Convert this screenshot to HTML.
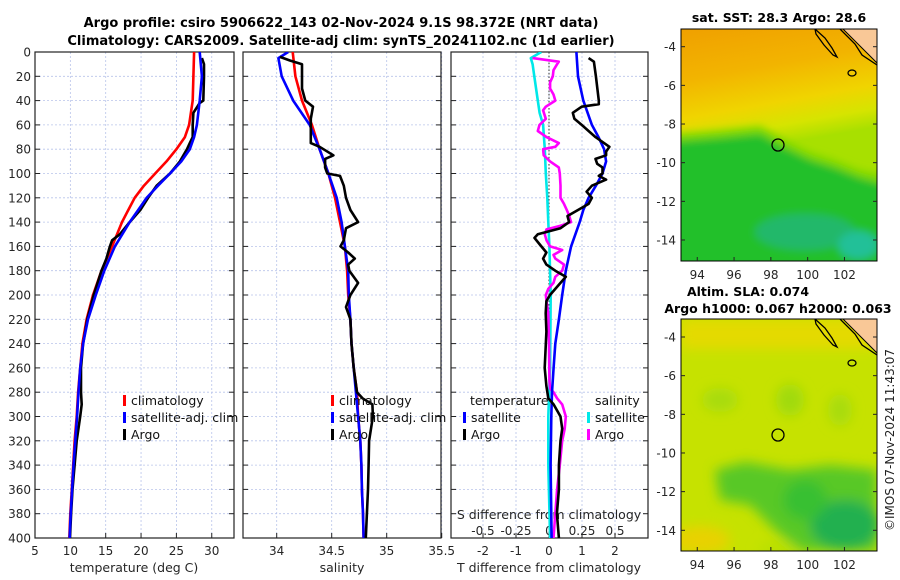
<!DOCTYPE html>
<html><head><meta charset="utf-8">
<style>
html,body{margin:0;padding:0;background:#fff;}
svg{display:block;font-family:"DejaVu Sans","Liberation Sans",sans-serif;}
</style></head>
<body>
<svg id="fig" width="900" height="580" viewBox="0 0 900 580" xmlns="http://www.w3.org/2000/svg">
<defs>
  <clipPath id="c1"><rect x="35" y="52" width="199" height="486"/></clipPath>
  <clipPath id="c2"><rect x="243" y="52" width="198" height="486"/></clipPath>
  <clipPath id="c3"><rect x="451" y="52" width="197" height="486"/></clipPath>
  <clipPath id="cm1"><rect x="681" y="29" width="196" height="232"/></clipPath>
  <clipPath id="cm2"><rect x="681" y="319" width="196" height="232"/></clipPath>
  <filter id="bl" x="-20%" y="-20%" width="140%" height="140%"><feGaussianBlur stdDeviation="6"/></filter>
  <filter id="bl2" x="-20%" y="-20%" width="140%" height="140%"><feGaussianBlur stdDeviation="4"/></filter>
  <linearGradient id="sstg" x1="0" y1="0" x2="0.15" y2="1">
    <stop offset="0" stop-color="#f0a000"/>
    <stop offset="0.22" stop-color="#f2b400"/>
    <stop offset="0.38" stop-color="#f0d400"/>
    <stop offset="0.48" stop-color="#d6e400"/>
    <stop offset="0.56" stop-color="#a8e000"/>
    <stop offset="1" stop-color="#a8e000"/>
  </linearGradient>
</defs>

<g font-weight="bold" font-size="13" fill="#000" text-anchor="middle">
  <text x="341" y="27">Argo profile: csiro 5906622_143 02-Nov-2024 9.1S 98.372E (NRT data)</text>
  <text x="341" y="45">Climatology: CARS2009. Satellite-adj clim: synTS_20241102.nc (1d earlier)</text>
</g>

<g id="axes"></g>
<g id="series"></g>
<g id="legends"></g>

<g>
  <text x="779" y="22" text-anchor="middle" font-weight="bold" font-size="12.5">sat. SST: 28.3 Argo: 28.6</text>
  <g clip-path="url(#cm1)">
    <rect x="681" y="29" width="196" height="232" fill="url(#sstg)"/>
    <g filter="url(#bl2)">
      <polygon points="670,134 720,130 760,126 785,140 810,152 835,160 860,170 890,176 890,280 670,280" fill="#7ed800"/>
      <polygon points="670,142 720,138 760,134 785,148 810,160 835,168 860,178 890,186 890,280 670,280" fill="#22c02c"/>
      <ellipse cx="805" cy="232" rx="50" ry="18" fill="#22b86a"/>
      <ellipse cx="858" cy="245" rx="20" ry="14" fill="#20c098"/>
    </g>
    <polygon points="843,29 877,29 877,63" fill="#f9c897"/>
    <polyline points="840,29 855,44 862,55 877,65" fill="none" stroke="#000" stroke-width="1.3"/>
    <polyline points="843,29 877,63" fill="none" stroke="#000" stroke-width="1"/>
    <path d="M815,29 L825,38 L832,48 L837,57 L833,55 L824,45 L816,34 Z" fill="none" stroke="#000" stroke-width="1.3"/>
    <ellipse cx="852" cy="73" rx="4" ry="3" fill="none" stroke="#000" stroke-width="1.3"/>
    <circle cx="778" cy="145" r="6" fill="none" stroke="#000" stroke-width="1.3"/>
  </g>
  <rect x="681" y="29" width="196" height="232" fill="none" stroke="#000" stroke-width="1"/>
</g>

<g>
  <text x="748" y="296" text-anchor="middle" font-weight="bold" font-size="12.5">Altim. SLA: 0.074</text>
  <text x="778" y="313" text-anchor="middle" font-weight="bold" font-size="12.5">Argo h1000: 0.067 h2000: 0.063</text>
  <g clip-path="url(#cm2)">
    <rect x="681" y="319" width="196" height="232" fill="#c6e200"/>
    <g filter="url(#bl)">
      <rect x="681" y="319" width="196" height="30" fill="#e4da00"/>
      <ellipse cx="720" cy="400" rx="18" ry="12" fill="#a8dc10"/>
      <ellipse cx="790" cy="400" rx="14" ry="16" fill="#a0da10"/>
      <ellipse cx="840" cy="410" rx="12" ry="16" fill="#a8dc10"/>
      <polygon points="715,470 745,462 790,470 830,465 877,470 877,551 800,551 775,530 750,505 720,500" fill="#58c828"/>
      <ellipse cx="845" cy="525" rx="35" ry="25" fill="#20b050"/>
      <ellipse cx="805" cy="500" rx="22" ry="20" fill="#38c030"/>
      <ellipse cx="700" cy="540" rx="30" ry="14" fill="#e8d200"/>
      <ellipse cx="778" cy="550" rx="20" ry="8" fill="#b8e000"/>
    </g>
    <polygon points="843,319 877,319 877,353" fill="#f9c897"/>
    <polyline points="840,319 855,334 862,345 877,355" fill="none" stroke="#000" stroke-width="1.3"/>
    <polyline points="843,319 877,353" fill="none" stroke="#000" stroke-width="1"/>
    <path d="M815,319 L825,328 L832,338 L837,347 L833,345 L824,335 L816,324 Z" fill="none" stroke="#000" stroke-width="1.3"/>
    <ellipse cx="852" cy="363" rx="4" ry="3" fill="none" stroke="#000" stroke-width="1.3"/>
    <circle cx="778" cy="435" r="6" fill="none" stroke="#000" stroke-width="1.3"/>
  </g>
  <rect x="681" y="319" width="196" height="232" fill="none" stroke="#000" stroke-width="1"/>
</g>
<g id="mapticks"></g>

<text transform="translate(894,440) rotate(-90)" text-anchor="middle" font-size="12" fill="#222">©IMOS 07-Nov-2024 11:43:07</text>
</svg>

<script>
const climT_d = [0,20,40,60,70,80,90,100,110,120,130,140,160,180,200,220,240,260,280,300,320,340,360,380,400];
const climT = [27.5,27.4,27.3,26.8,26.2,25.0,23.6,22.0,20.4,19.1,18.2,17.3,15.9,14.4,13.2,12.3,11.7,11.4,11.1,10.9,10.6,10.4,10.2,10.0,9.85];
const satT = [28.3,28.6,28.3,27.9,27.5,26.9,25.7,24.1,22.4,20.8,19.6,18.4,16.3,14.8,13.6,12.5,11.8,11.4,11.15,10.95,10.7,10.45,10.25,10.05,9.9];
const argoT_d = [5,10,20,40,42,50,60,70,75,80,90,95,100,110,120,130,140,150,155,160,170,180,200,220,240,260,280,290,300,320,340,360,380,400];
const argoT = [28.6,28.9,28.9,28.8,28.3,27.4,27.3,27.3,26.9,26.5,25.5,24.8,24.1,22.2,21.0,19.9,18.4,17.0,15.9,15.6,15.1,14.4,13.3,12.4,11.8,11.5,11.5,11.6,11.4,10.9,10.6,10.3,10.1,9.95];

const climS_d = [0,20,40,60,80,100,120,140,160,180,200,220,240,260,280,300,320,340,360,380,400];
const climS = [34.145,34.17,34.23,34.32,34.39,34.47,34.53,34.575,34.62,34.64,34.65,34.67,34.68,34.70,34.73,34.74,34.76,34.77,34.775,34.785,34.79];
const satS_d = [0,5,20,40,60,80,100,120,140,160,180,200,220,240,260,280,300,320,340,360,380,400];
const satS = [34.105,34.015,34.045,34.15,34.30,34.39,34.47,34.545,34.59,34.62,34.65,34.655,34.67,34.68,34.70,34.72,34.74,34.76,34.77,34.775,34.785,34.79];
const argoS_d = [4,7,10,30,40,45,55,65,75,78,85,88,95,100,102,110,120,130,140,145,155,160,165,170,175,180,190,200,210,220,240,260,280,285,290,300,320,340,360,380,400];
const argoS = [34.03,34.12,34.23,34.23,34.26,34.33,34.31,34.31,34.31,34.39,34.515,34.44,34.44,34.46,34.575,34.61,34.63,34.67,34.74,34.63,34.61,34.58,34.65,34.71,34.65,34.66,34.74,34.67,34.63,34.67,34.68,34.70,34.73,34.78,34.87,34.875,34.84,34.835,34.83,34.82,34.81];

const satdT_d = [0,20,40,60,70,80,90,100,110,120,130,140,160,180,200,220,240,260,280,300,340,400];
const satdT = [0.83,0.88,1.04,1.30,1.50,1.67,1.73,1.62,1.42,1.20,1.04,0.93,0.67,0.51,0.40,0.30,0.19,0.14,0.09,0.07,0.05,0.08];
const argodT_d = [5,8,20,40,43,45,50,55,60,70,78,82,85,88,92,95,100,102,105,110,115,120,125,130,135,140,145,150,153,158,165,170,175,180,185,190,195,200,205,215,230,260,275,285,290,300,310,320,340,360,380,400];
const argodT = [1.2,1.36,1.42,1.51,1.51,0.99,0.72,0.77,0.99,1.41,1.83,1.73,1.73,1.41,1.46,1.62,1.62,1.51,1.73,1.30,1.14,1.30,1.20,0.88,0.56,0.61,0.35,-0.34,-0.44,-0.29,-0.08,-0.18,-0.08,0.19,0.51,0.35,0.19,0.03,-0.08,-0.10,-0.08,-0.13,-0.08,-0.02,0.14,0.35,0.40,0.35,0.30,0.30,0.24,0.30];
const satdS_d = [0,5,10,20,40,50,60,80,100,120,140,160,200,260,300,340,400];
const satdS = [-0.058,-0.138,-0.124,-0.111,-0.085,-0.071,-0.045,-0.032,-0.024,-0.013,-0.005,0.003,0.013,0.008,-0.005,-0.005,0.008];
const argodS_d = [5,8,10,15,20,25,30,35,40,45,48,55,60,65,70,75,78,80,85,90,95,100,110,120,125,130,135,140,143,146,150,155,160,163,167,170,175,180,185,190,195,200,205,215,240,270,277,280,285,290,300,310,320,340,360,380,400];
const argodS = [-0.124,0.074,0.061,0.034,0.029,0.008,0.008,0.034,0.048,-0.024,-0.045,-0.024,-0.072,-0.085,-0.019,0.074,0.048,-0.045,-0.040,0.008,0.074,0.082,0.087,0.087,0.114,0.135,0.154,0.167,0.087,-0.019,-0.032,-0.019,0.008,0.1,0.034,0.048,0.114,0.1,0.048,0.034,-0.005,-0.024,-0.019,-0.005,0,0.003,0.008,0.034,0.061,0.1,0.127,0.119,0.1,0.082,0.061,0.048,0.034];

const depthTicks = [0,20,40,60,80,100,120,140,160,180,200,220,240,260,280,300,320,340,360,380,400];
const tTicks = [5,10,15,20,25,30];
const sTicks = [34,34.5,35,35.5];
const dTicks = [-2,-1,0,1,2];
const sdTicks = [-0.5,-0.25,0,0.25,0.5];
const latTicks = [-4,-6,-8,-10,-12,-14];
const lonTicks = [94,96,98,100,102];

const NS = 'http://www.w3.org/2000/svg';
const yD = d => 52 + d * 1.215;
const xT = t => 35 + (t - 5) * 7.07;
const xS = s => 276.7 + (s - 34) * 110;
const xDT = v => 549 + v * 33;
const xDS = v => 549 + v * 132;
const P = [{x0:35,x1:234,name:'temperature'},{x0:243,x1:441,name:'salinity'},{x0:451,x1:648,name:'difference'}];

function mk(tag, attrs, parent){ const e=document.createElementNS(NS,tag); for(const k in attrs) e.setAttribute(k,attrs[k]); parent.appendChild(e); return e; }
const axes=document.getElementById('axes'), series=document.getElementById('series'), legends=document.getElementById('legends');

P.forEach((p,i)=>{
  const g=mk('g',{},axes);
  
  
  depthTicks.forEach(d=>{
    mk('line',{x1:p.x0,x2:p.x1,y1:yD(d),y2:yD(d),stroke:'#b8c4ea','stroke-width':0.8,'stroke-dasharray':'2,2'},g);
    mk('line',{x1:p.x0,x2:p.x0+5,y1:yD(d),y2:yD(d),stroke:'#222'},g);
    mk('line',{x1:p.x1-5,x2:p.x1,y1:yD(d),y2:yD(d),stroke:'#222'},g);
  });
  let xs = i===0 ? tTicks.map(xT) : i===1 ? sTicks.map(xS) : dTicks.map(xDT);
  xs.forEach(x=>{
    mk('line',{x1:x,x2:x,y1:52,y2:538,stroke:'#b8c4ea','stroke-width':0.8,'stroke-dasharray':'2,2'},g);
    mk('line',{x1:x,x2:x,y1:538,y2:533,stroke:'#222'},g);
  });
  mk('rect',{x:p.x0,y:52,width:p.x1-p.x0,height:486,fill:'none',stroke:'#222','stroke-width':1.2},g);
});
const zl=mk('line',{x1:xDT(0),x2:xDT(0),y1:52,y2:538,stroke:'#333','stroke-width':1,'stroke-dasharray':'1.5,2'},axes);



function txt(s,x,y,attrs,parent){ const t=mk('text',Object.assign({x:x,y:y,'font-size':12,fill:'#262626'},attrs||{}),parent); t.textContent=s; return t; }
depthTicks.forEach(d=>{
  const t=txt(String(d),31,yD(d)+4.5,{'text-anchor':'end'},axes);
  
  
});
tTicks.forEach(v=>{ const t=txt(String(v),xT(v),555,{'text-anchor':'middle'},axes);   });
sTicks.forEach(v=>{ const t=txt(String(v),xS(v),555,{'text-anchor':'middle'},axes);   });
dTicks.forEach(v=>{ const t=txt(String(v),xDT(v),555,{'text-anchor':'middle'},axes);   });
sdTicks.forEach(v=>{ const t=txt(String(v),xDS(v),535,{'text-anchor':'middle'},axes);   });
[['temperature (deg C)',134,572],['salinity',342,572],['T difference from climatology',549,572],['S difference from climatology',549,519]].forEach(a=>{
  const t=txt(a[0],a[1],a[2],{'text-anchor':'middle','font-size':12.5},axes);
  
  
});

function line(ds, vs, xf, color, clip, name){
  const pts = ds.map((d,i)=> xf(vs[i]).toFixed(1)+','+yD(d).toFixed(1)).join(' ');
  const el=mk('polyline',{points:pts,fill:'none',stroke:color,'stroke-width':2.6,'stroke-linejoin':'round','clip-path':'url(#'+clip+')'},series);
  
  
}
line(climT_d, climT, xT, '#ff0000','c1','temperature-climatology-line');
line(argoT_d, argoT, xT, '#000000','c1','temperature-argo-line');
line(climT_d, satT, xT, '#0000ff','c1','temperature-satellite-line');
line(climS_d, climS, xS, '#ff0000','c2','salinity-climatology-line');
line(satS_d, satS, xS, '#0000ff','c2','salinity-satellite-line');
line(argoS_d, argoS, xS, '#000000','c2','salinity-argo-line');
line(satdS_d, satdS, xDS, '#00e8e8','c3','salinity-diff-satellite-line');
line(argodS_d, argodS, xDS, '#ff00ff','c3','salinity-diff-argo-line');
line(satdT_d, satdT, xDT, '#0000ff','c3','temperature-diff-satellite-line');
line(argodT_d, argodT, xDT, '#000000','c3','temperature-diff-argo-line');

function leg(x,y,color,label){
  const g=mk('g',{},legends);
  
  
  mk('rect',{x:x,y:y-10,width:3,height:11,fill:color},g);
  txt(label,x+8,y,{'font-size':12.5,fill:'#111'},g);
}
[[123,'#ff0000','climatology'],[123,'#0000ff','satellite-adj. clim'],[123,'#000','Argo']].forEach((a,i)=>leg(a[0],405+i*17,a[1],a[2]));
[[331,'#ff0000','climatology'],[331,'#0000ff','satellite-adj. clim'],[331,'#000','Argo']].forEach((a,i)=>leg(a[0],405+i*17,a[1],a[2]));
leg(463,422,'#0000ff','satellite'); leg(463,439,'#000','Argo');
leg(587,422,'#00e8e8','satellite'); leg(587,439,'#ff00ff','Argo');
const lt1=txt('temperature',470,405,{'font-size':12.5,fill:'#111'},legends);


const lt2=txt('salinity',595,405,{'font-size':12.5,fill:'#111'},legends);



const mt=document.getElementById('mapticks');
const xLon = l => 680.7 + (l - 93.1) * 18.4;
[[29,46.7],[319,337]].forEach(m=>{
  const top=m[0], y4=m[1];
  latTicks.forEach(l=>{
    const y = y4 + (-4 - l) * 19.33;
    mk('line',{x1:681,x2:685,y1:y,y2:y,stroke:'#222'},mt);
    mk('line',{x1:873,x2:877,y1:y,y2:y,stroke:'#222'},mt);
    const t=txt(String(l),676,y+4.5,{'text-anchor':'end'},mt);
    
    
  });
  lonTicks.forEach(l=>{
    const x=xLon(l);
    mk('line',{x1:x,x2:x,y1:top+232,y2:top+228,stroke:'#222'},mt);
    const t=txt(String(l),x,top+250,{'text-anchor':'middle'},mt);
    
    
  });
});
</script>
</body></html>
